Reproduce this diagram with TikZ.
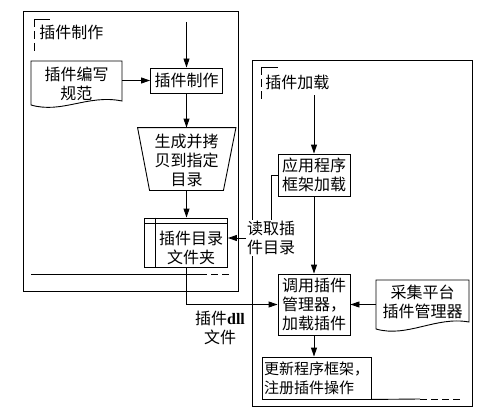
\documentclass[tikz,border=0pt]{standalone}
\usepackage{fontspec}
\setmainfont{Liberation Serif}
\newfontfamily\cjk{Noto Sans CJK SC}
\usetikzlibrary{arrows.meta}
\begin{document}
\begin{tikzpicture}[x=1pt,y=-1pt,
  line width=0.9pt,
  every node/.style={font=\cjk\fontsize{16}{19}\selectfont, align=center, inner sep=0pt},
  box/.style={draw, rectangle},
  arr/.style={-{Triangle[length=9pt,width=6pt]}},
  brk/.style={dash pattern=on 8pt off 4pt},
  dsh/.style={dash pattern=on 7pt off 4pt}]
\useasboundingbox (0,0) rectangle (482,412);
% frames
\draw (23,11) rectangle (238,291);
\draw (252,60) rectangle (472,406);
% lane labels
\draw (34,19) -- (50,19);
\draw[brk] (34,19) -- (34,52);
\node[anchor=west] (lblL) at (39,32) {插件制作};
\draw (261,67) -- (278,67);
\draw[brk] (261,67) -- (261,100);
\node[anchor=west] (lblR) at (265,82) {插件加载};
% left lane
\coordinate (tl) at (186.5,22);
\node[box, minimum width=72pt, minimum height=25pt] (b1) at (186.5,80.5) {插件制作};
\node[minimum width=91pt, minimum height=36pt] (doc1) at (76.5,84) {插件编写\\规范};
\draw (31,61) -- (122,61) -- (122,101) .. controls (88,94) and (62,114) .. (31,105) -- cycle;
\node[minimum width=73pt, minimum height=62pt] (trap) at (186.5,160) {生成并拷\\贝到指定\\目录};
\draw ([xshift=-12pt,yshift=1pt]trap.north west) -- ([xshift=12.5pt,yshift=1pt]trap.north east) -- ([yshift=1pt]trap.south east) -- ([yshift=1pt]trap.south west) -- cycle;
\node[box, minimum width=83pt, minimum height=49pt] (fold) at (186,242.5) {};
\draw ([xshift=11pt]fold.north west) -- ([xshift=11pt]fold.south west);
\draw ([yshift=-6pt]fold.north west) -- ([yshift=-6pt]fold.north east);
\node (foldtxt) at (191,247.5) {插件目录\\文件夹};
\draw (31,274) -- (200,274);
\draw[dsh] (200,274) -- (229,274);
% right lane
\coordinate (tr) at (314,95);
\node[box, minimum width=72pt, minimum height=42pt] (b2) at (314,175) {应用程序\\框架加载};
\node[box, minimum width=72pt, minimum height=61pt] (b3) at (314,304.5) {调用插件\\管理器，\\加载插件};
\node[box, minimum width=109pt, minimum height=42pt, align=left, font=\cjk\fontsize{15}{19}\selectfont] (b4) at (316.5,378) {更新程序框架，\\注册插件操作};
\node[minimum width=93pt, minimum height=40pt] (doc2) at (422.5,302) {采集平台\\插件管理器};
\draw (376,280) -- (469,280) -- (469,322) .. controls (436,316) and (407,338) .. (376,329) -- cycle;
\draw (b4.south east) -- (420,399);
\draw[dsh] (420,399) -- (460,399);
% labels on connectors
\node[fill=white, inner sep=1pt] (readtxt) at (271,238) {读取插\\件目录};
\node (dll) at (220,327.5) {插件{\rmfamily\bfseries dll}\\文件};
% connectors
\draw[arr] (tl) -- (b1.north);
\draw[arr] (doc1.east |- b1.west) -- (b1.west);
\draw[arr] (b1.south) -- ([yshift=1pt]trap.north);
\draw[arr] ([yshift=1pt]trap.south) -- (trap.south |- fold.north);
\draw[arr] (tr) -- (b2.north);
\draw[arr] (b2.south) -- (b3.north);
\draw[arr] (b3.south) -- (b3.south |- b4.north);
\draw[arr] (doc2.west |- b3.east) -- (b3.east);
\draw[arr] (fold.south) |- (b3.west);
\draw (b2.west) -| (readtxt.north);
\draw[arr] (readtxt.west) -- (readtxt.west -| fold.east);
\end{tikzpicture}
\end{document}
